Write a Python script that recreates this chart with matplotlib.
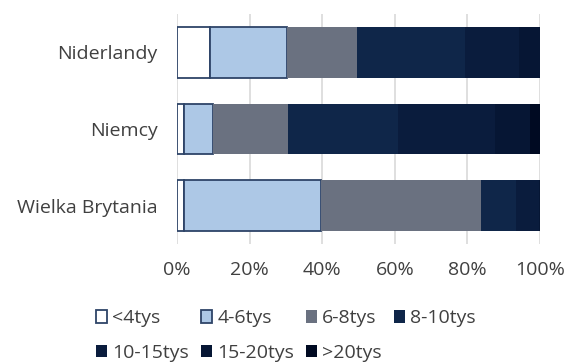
import numpy as np
import matplotlib.pyplot as plt
from matplotlib.ticker import PercentFormatter

plt.rcParams['font.family'] = ['Open Sans', 'DejaVu Sans']

countries = ['Niderlandy', 'Niemcy', 'Wielka Brytania']
groups = ['<4tys', '4-6tys', '6-8tys', '8-10tys', '10-15tys', '15-20tys', '>20tys']
# share of each group in percent, per country
shares = {
    '<4tys':    [9.2, 1.8, 2.0],
    '4-6tys':   [21.0, 8.2, 37.6],
    '6-8tys':   [19.5, 20.7, 44.1],
    '8-10tys':  [29.6, 30.3, 9.7],
    '10-15tys': [15.0, 26.7, 6.3],
    '15-20tys': [5.7, 9.5, 0.3],
    '>20tys':   [0.0, 2.8, 0.0],
}
colors = ['#ffffff', '#adc8e6', '#6a7180', '#0f2649', '#0a1c3d', '#061634', '#000a22']
edges = ['#2e4468', '#2e4468', 'none', 'none', 'none', 'none', 'none']

fig = plt.figure(figsize=(5.68, 3.63), dpi=100)
ax = fig.add_axes([177/568, 1-244/363, 363/568, 230/363])

y = np.arange(len(countries))
left = np.zeros(len(countries))
bars = {}
for g, c, e in zip(groups, colors, edges):
    vals = np.array(shares[g])
    bars[g] = ax.barh(y, vals, left=left, height=0.66, color=c, edgecolor=e,
                      linewidth=1.3 if e != 'none' else 0, label=g, zorder=3)
    left += vals

ax.set_ylim(2.5, -0.5)
ax.set_xlim(0, 100)
ax.set_xticks(np.arange(0, 101, 20))
ax.xaxis.set_major_formatter(PercentFormatter(decimals=0))
ax.set_yticks(y)
ax.set_yticklabels(countries)
ax.grid(axis='x', color='#d9d9d9', linewidth=1.2, zorder=0)
for s in ax.spines.values():
    s.set_visible(False)
ax.tick_params(length=0, labelsize=14, colors='#404040')
ax.tick_params(axis='y', pad=14)
ax.tick_params(axis='x', pad=12)

# legend filled column-wise, so reorder to read row by row
order = ['<4tys', '10-15tys', '4-6tys', '15-20tys', '6-8tys', '>20tys', '8-10tys']
fig.legend([bars[g] for g in order], order, loc='lower left',
           bbox_to_anchor=(88/568, -0.018), borderaxespad=0, ncol=4, frameon=False,
           fontsize=14, handlelength=0.6, handleheight=0.6, handletextpad=0.25,
           columnspacing=0.6, labelspacing=0.85, labelcolor='#404040')

fig.savefig('out.png', dpi=100)
